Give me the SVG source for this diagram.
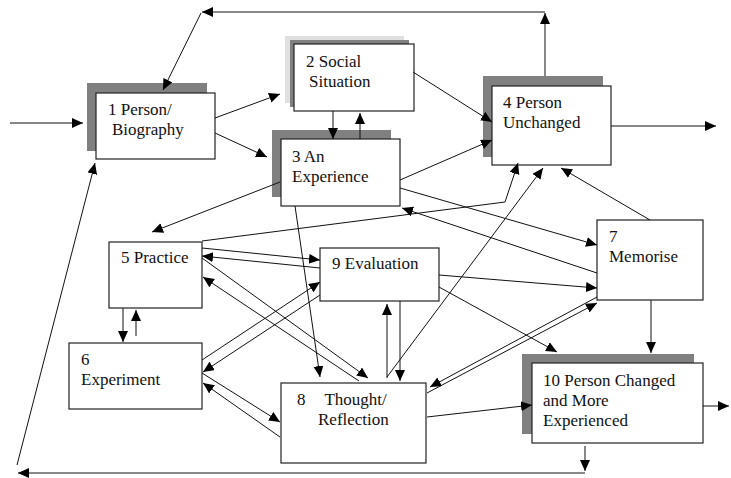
<svg xmlns="http://www.w3.org/2000/svg" width="731" height="478" viewBox="0 0 731 478">
<style>
.box{fill:#fff;stroke:#222;stroke-width:1.2}
.sh{fill:#808080}
.shl{fill:#e0e0e0}
.t{font-family:"Liberation Serif","Times New Roman",serif;font-size:17px;fill:#111}
.c line,.c polyline{stroke:#111;stroke-width:1;fill:none;marker-end:url(#ah)}
</style>
<defs>
<marker id="ah" markerUnits="userSpaceOnUse" markerWidth="12" markerHeight="11" refX="11" refY="5" orient="auto">
<path d="M0,0 L11,5 L0,10 z" fill="#000"/>
</marker>
</defs>
<rect width="731" height="478" fill="#fff"/>
<g id="node1">
<rect class="sh" x="87" y="83" width="120" height="68"/>
<rect class="box" x="96" y="93" width="119" height="66"/>
<text class="t" x="108" y="115">1 Person/</text>
<text class="t" x="112" y="135">Biography</text>
</g>
<g id="node2">
<rect class="shl" x="285" y="36" width="119" height="67"/>
<rect class="sh" x="290" y="40" width="119" height="67"/>
<rect class="box" x="294" y="44" width="120" height="67"/>
<text class="t" x="306" y="67">2 Social</text>
<text class="t" x="309" y="87">Situation</text>
</g>
<g id="node3">
<rect class="sh" x="272" y="130" width="119" height="67"/>
<rect class="box" x="281" y="139" width="119" height="67"/>
<text class="t" x="292" y="162">3 An</text>
<text class="t" x="292" y="182">Experience</text>
</g>
<g id="node4">
<rect class="sh" x="483" y="76" width="120" height="81"/>
<rect class="box" x="492" y="86" width="119" height="79"/>
<text class="t" x="503" y="108">4 Person</text>
<text class="t" x="503" y="128">Unchanged</text>
</g>
<g id="node5">
<rect class="box" x="109" y="242" width="93" height="66"/>
<text class="t" x="121" y="263">5 Practice</text>
</g>
<g id="node6">
<rect class="box" x="69" y="343" width="133" height="66"/>
<text class="t" x="81" y="365">6</text>
<text class="t" x="81" y="385">Experiment</text>
</g>
<g id="node7">
<rect class="box" x="597" y="220" width="106" height="80"/>
<text class="t" x="609" y="242">7</text>
<text class="t" x="609" y="262">Memorise</text>
</g>
<g id="node8">
<rect class="box" x="281" y="383" width="145" height="80"/>
<text class="t" x="297" y="405">8 <tspan dx="15">Thought/</tspan></text>
<text class="t" x="318" y="425">Reflection</text>
</g>
<g id="node9">
<rect class="box" x="320" y="248" width="119" height="53"/>
<text class="t" x="332" y="269">9 Evaluation</text>
</g>
<g id="node10">
<rect class="sh" x="522" y="354" width="172" height="80"/>
<rect class="box" x="532" y="363" width="171" height="80"/>
<text class="t" x="543" y="386">10 Person Changed</text>
<text class="t" x="543" y="406">and More</text>
<text class="t" x="543" y="426">Experienced</text>
</g>
<g class="c" id="connectors">
<line x1="10" y1="123" x2="83" y2="123"/>
<line x1="215" y1="118" x2="280" y2="94"/>
<line x1="215" y1="133" x2="267" y2="157"/>
<line x1="333" y1="111" x2="333" y2="139"/>
<line x1="360" y1="139" x2="360" y2="113"/>
<line x1="413" y1="72" x2="492" y2="122"/>
<line x1="400" y1="180" x2="492" y2="140"/>
<line x1="611" y1="126" x2="716" y2="126"/>
<line x1="545" y1="76" x2="545" y2="13"/>
<line x1="545" y1="12" x2="202" y2="12"/>
<line x1="201" y1="13" x2="163" y2="90"/>
<line x1="280" y1="182" x2="152" y2="232"/>
<line x1="295" y1="206" x2="320" y2="377"/>
<polyline points="202,241 505,202 518,163"/>
<line x1="650" y1="220" x2="561" y2="168"/>
<line x1="387" y1="377" x2="543" y2="168"/>
<line x1="597" y1="273" x2="402" y2="208"/>
<line x1="400" y1="188" x2="597" y2="245"/>
<line x1="202" y1="248" x2="320" y2="260"/>
<line x1="320" y1="268" x2="202" y2="256"/>
<line x1="202" y1="258" x2="368" y2="378"/>
<line x1="359" y1="381" x2="203" y2="277"/>
<line x1="202" y1="360" x2="320" y2="282"/>
<line x1="320" y1="295" x2="203" y2="372"/>
<line x1="202" y1="373" x2="280" y2="422"/>
<line x1="280" y1="437" x2="203" y2="383"/>
<line x1="123" y1="308" x2="123" y2="342"/>
<line x1="136" y1="336" x2="136" y2="310"/>
<line x1="439" y1="275" x2="597" y2="288"/>
<line x1="439" y1="287" x2="557" y2="352"/>
<line x1="387" y1="378" x2="387" y2="304"/>
<line x1="400" y1="301" x2="400" y2="381"/>
<line x1="597" y1="297" x2="430" y2="387"/>
<line x1="427" y1="393" x2="597" y2="303"/>
<line x1="651" y1="300" x2="651" y2="353"/>
<line x1="427" y1="417" x2="532" y2="405"/>
<line x1="703" y1="406" x2="729" y2="406"/>
<line x1="585" y1="446" x2="585" y2="471"/>
<line x1="585" y1="473" x2="18" y2="473"/>
<line x1="17" y1="465" x2="95" y2="163"/>
</g>
</svg>
